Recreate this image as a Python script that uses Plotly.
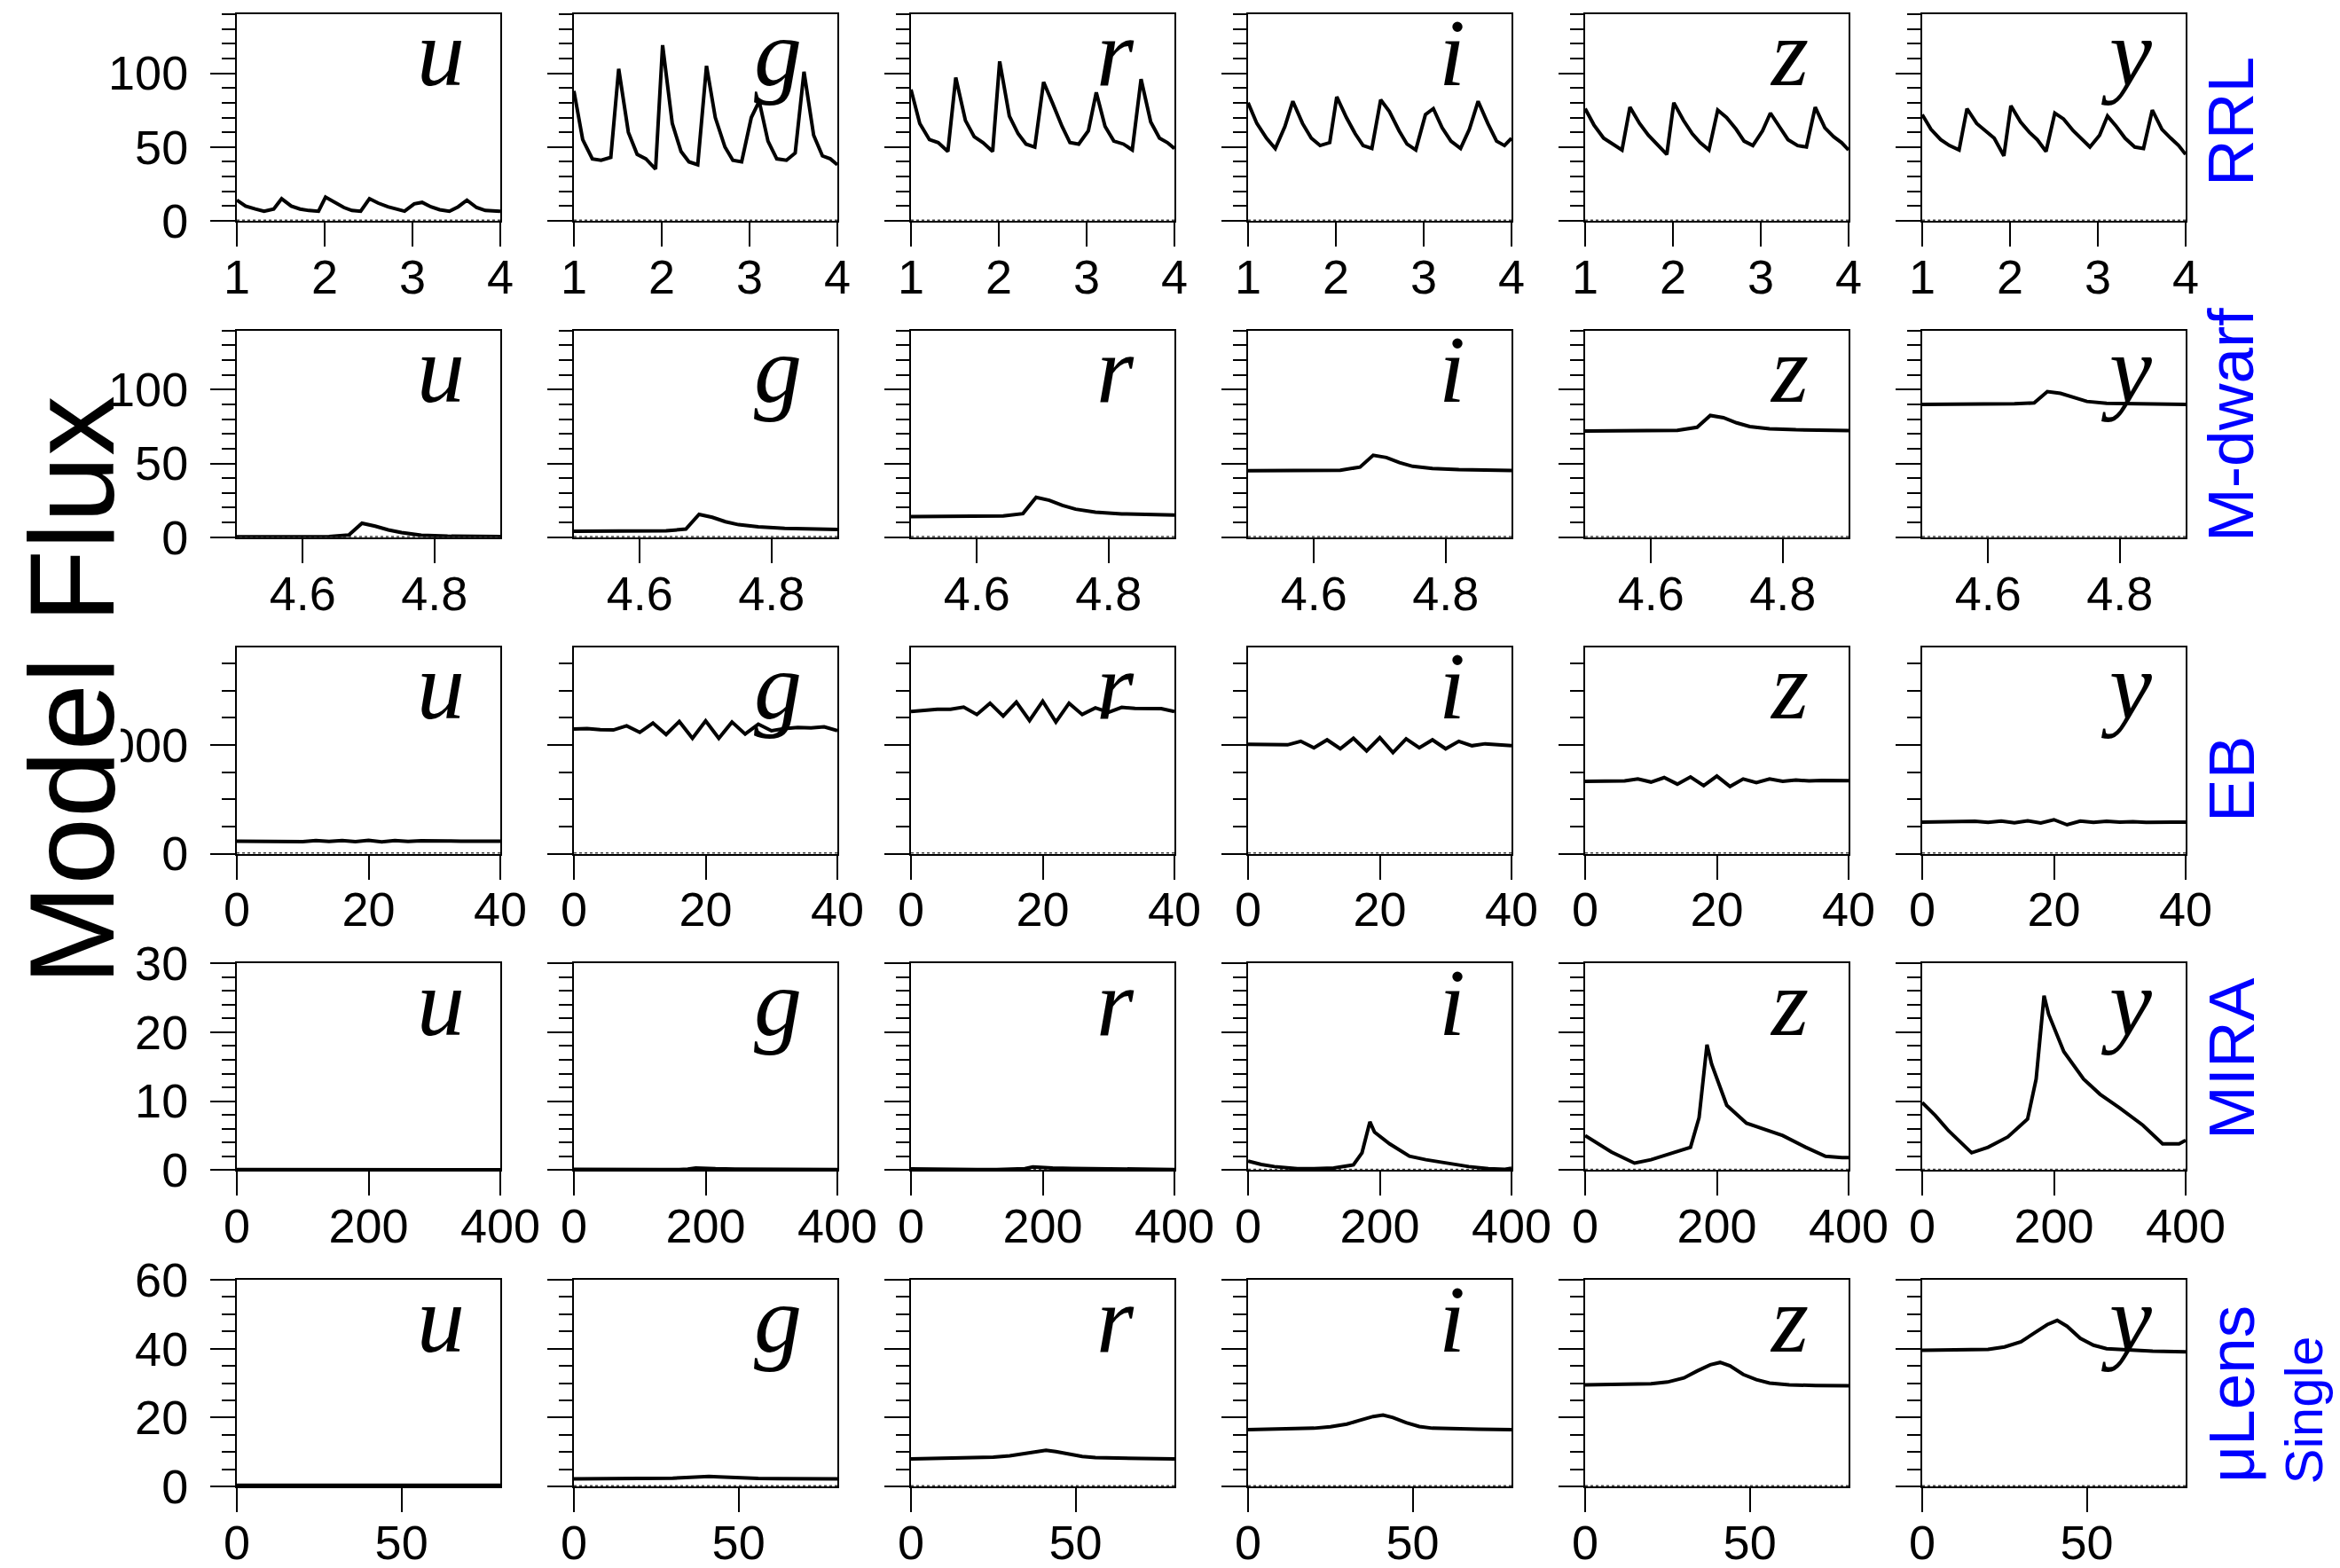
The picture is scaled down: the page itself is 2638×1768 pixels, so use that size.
import plotly.graph_objects as go

# ---------------------------------------------------------------------------
# Model light curves: one row per source class, one column per LSST band
# ---------------------------------------------------------------------------
BANDS = ["u", "g", "r", "i", "z", "y"]
CLASS_NAMES = ["RRL", "M-dwarf", "EB", "MIRA", "μLens"]

# RR Lyrae (time in days)
rrl_t = [1.00, 1.10, 1.21, 1.31, 1.42, 1.51, 1.62, 1.72, 1.82, 1.93, 2.01,
         2.12, 2.22, 2.31, 2.41, 2.51, 2.61, 2.72, 2.81, 2.91, 3.02, 3.11,
         3.21, 3.31, 3.42, 3.52, 3.62, 3.73, 3.83, 3.92, 4.00]
rrl_u = [14, 10, 8, 6.5, 8, 15, 10, 8, 7, 6.5, 16, 12, 9, 7, 6.5, 15, 12, 9.5,
         8, 6.5, 11.5, 12.5, 9.5, 7.5, 6.5, 9.5, 14, 9, 7, 6.5, 6.5]
rrl_g = [88, 55, 42, 41, 43, 103, 60, 45, 42, 35, 119, 66, 47, 40, 38, 105, 70,
         50, 41, 40, 70, 81, 54, 42, 41, 46, 101, 58, 44, 42, 38]
rrl_r = [89, 66, 55, 53, 47, 97, 68, 57, 53, 47, 108, 71, 59, 52, 50, 94, 80,
         64, 53, 52, 61, 87, 64, 54, 52, 48, 96, 67, 56, 53, 49]
rrl_i = [80, 66, 56, 49, 64, 81, 66, 56, 51, 53, 84, 70, 59, 51, 49, 82, 74,
         61, 52, 48, 72, 76, 63, 54, 49, 62, 81, 66, 54, 51, 56]
rrl_z = [76, 65, 56, 52, 48, 77, 66, 58, 52, 45, 80, 68, 59, 53, 48, 75, 70,
         62, 54, 51, 61, 73, 64, 55, 51, 50, 77, 63, 57, 53, 48]
rrl_y = [72, 62, 55, 51, 48, 76, 66, 61, 56, 44, 78, 67, 60, 55, 47, 73, 69,
         61, 56, 50, 58, 71, 64, 56, 50, 49, 75, 62, 56, 51, 45]

# M-dwarf flare
mdw_t = [4.50, 4.55, 4.60, 4.64, 4.67, 4.69, 4.71, 4.73, 4.75, 4.78, 4.82,
         4.86, 4.90]
mdw_u = [0.3, 0.3, 0.3, 0.4, 1.5, 9.5, 7.5, 5.0, 3.2, 1.4, 0.7, 0.5, 0.4]
mdw_g = [4.0, 4.0, 4.1, 4.3, 5.5, 15.5, 13.5, 10.5, 8.5, 7.0, 6.0, 5.5, 5.3]
mdw_r = [14.0, 14.0, 14.1, 14.4, 16.0, 27.0, 25.0, 21.5, 19.0, 17.0, 15.8,
         15.3, 15.0]
mdw_i = [45.0, 45.0, 45.1, 45.4, 47.5, 55.5, 54.0, 50.5, 48.0, 46.5, 45.8,
         45.4, 45.2]
mdw_z = [72.0, 72.0, 72.1, 72.4, 74.5, 82.5, 81.0, 77.5, 75.0, 73.5, 72.8,
         72.4, 72.2]
mdw_y = [90.0, 90.0, 90.2, 90.4, 91.0, 98.7, 97.5, 94.5, 92.0, 90.8, 90.4,
         90.2, 90.0]

# Eclipsing binary
eb_t = [0, 2, 4, 6, 8, 10, 12, 14, 16, 18, 20, 22, 24, 26, 28, 30, 32, 34, 36,
        38, 40]
eb_u = [115, 115, 116, 113, 118, 110, 120, 112, 121, 110, 122, 108, 120, 112,
        118, 114, 116, 115, 116, 115, 115]
eb_g = [1145, 1150, 1140, 1137, 1175, 1115, 1200, 1095, 1215, 1060, 1220, 1060,
        1210, 1100, 1190, 1130, 1150, 1160, 1155, 1165, 1130]
eb_r = [1306, 1320, 1328, 1328, 1347, 1279, 1383, 1265, 1393, 1224, 1402, 1210,
        1383, 1279, 1340, 1300, 1345, 1335, 1330, 1333, 1306]
eb_i = [1005, 1003, 1008, 1000, 1033, 973, 1046, 964, 1060, 945, 1066, 929,
        1055, 973, 1046, 964, 1033, 992, 1010, 1005, 992]
eb_z = [664, 668, 670, 668, 686, 658, 699, 639, 705, 625, 713, 617, 686, 653,
        686, 664, 676, 668, 673, 671, 670]
eb_y = [290, 290, 292, 294, 297, 287, 300, 284, 302, 282, 312, 265, 300, 287,
        297, 290, 294, 288, 292, 290, 290]

# Mira variable
mira_t = [0, 20, 40, 75, 100, 130, 160, 173, 185, 192, 215, 245, 270, 300, 335,
          365, 390, 400]
mira_u = [0.05, 0.05, 0.04, 0.03, 0.03, 0.03, 0.04, 0.05, 0.08, 0.07, 0.06,
          0.05, 0.05, 0.04, 0.04, 0.03, 0.03, 0.03]
mira_g = [0.10, 0.08, 0.06, 0.04, 0.04, 0.05, 0.07, 0.12, 0.30, 0.25, 0.18,
          0.13, 0.11, 0.09, 0.07, 0.05, 0.05, 0.05]
mira_r = [0.15, 0.12, 0.10, 0.06, 0.06, 0.08, 0.12, 0.20, 0.45, 0.40, 0.30,
          0.22, 0.18, 0.15, 0.11, 0.08, 0.07, 0.08]
mira_i = [1.3, 0.8, 0.5, 0.2, 0.2, 0.3, 0.75, 2.5, 7.0, 5.5, 3.8, 2.0, 1.5,
          1.0, 0.5, 0.2, 0.1, 0.25]
mira_z = [5.0, 3.8, 2.6, 1.0, 1.5, 2.4, 3.3, 7.6, 18.2, 15.4, 9.4, 6.8, 6.0,
          5.0, 3.3, 2.0, 1.8, 1.8]
mira_y = [9.8, 7.9, 5.7, 2.5, 3.3, 4.8, 7.4, 13.2, 25.3, 22.6, 17.2, 13.2, 11.0,
          9.0, 6.5, 3.8, 3.8, 4.3]

# Single-lens microlensing event
lens_t = [0, 10, 20, 25, 30, 34, 38, 41, 44, 48, 52, 56, 62, 70, 80]
lens_u = [0.3, 0.3, 0.3, 0.32, 0.35, 0.4, 0.45, 0.48, 0.45, 0.4, 0.35, 0.32,
          0.3, 0.3, 0.3]
lens_g = [2.2, 2.2, 2.25, 2.3, 2.4, 2.6, 2.8, 2.9, 2.8, 2.55, 2.4, 2.3, 2.25,
          2.2, 2.2]
lens_r = [8.0, 8.1, 8.3, 8.5, 8.9, 9.5, 10.2, 10.5, 10.1, 9.3, 8.7, 8.4, 8.2,
          8.1, 8.0]
lens_i = [16.5, 16.6, 16.9, 17.3, 18.1, 19.2, 20.3, 20.7, 20.0, 18.5, 17.4,
          16.9, 16.7, 16.6, 16.5]
lens_z = [29.5, 29.6, 29.8, 30.3, 31.5, 33.5, 35.3, 36.0, 35.0, 32.5, 31.0,
          30.0, 29.5, 29.3, 29.2]
lens_y = [39.5, 39.6, 39.8, 40.5, 42.0, 44.5, 47.0, 48.2, 46.5, 43.0, 41.0,
          40.0, 39.6, 39.3, 39.1]

rows = [
    (rrl_t, [rrl_u, rrl_g, rrl_r, rrl_i, rrl_z, rrl_y]),
    (mdw_t, [mdw_u, mdw_g, mdw_r, mdw_i, mdw_z, mdw_y]),
    (eb_t, [eb_u, eb_g, eb_r, eb_i, eb_z, eb_y]),
    (mira_t, [mira_u, mira_g, mira_r, mira_i, mira_z, mira_y]),
    (lens_t, [lens_u, lens_g, lens_r, lens_i, lens_z, lens_y]),
]

# axis settings per row: x range, x dtick, y range, y dtick, y minor dtick
x_ranges = [[1, 4], [4.5, 4.9], [0, 40], [0, 400], [0, 80]]
x_dticks = [1, 0.2, 20, 200, 50]
y_ranges = [[0, 140], [0, 140], [0, 1900], [0, 30], [0, 60]]
y_dticks = [50, 50, 1000, 10, 20]
y_minor = [10, 10, 250, 2, 5]

# ---------------------------------------------------------------------------
W, H = 2638, 1768
PW, PH = 297, 233
col_left = [267 + 380 * c for c in range(6)]
row_top = [16 + 356.75 * r for r in range(5)]

TICK_FONT = dict(family="Liberation Sans, Arial, sans-serif", size=54,
                 color="black")

fig = go.Figure()
layout = {}
annotations = []

for r, (t, fluxes) in enumerate(rows):
    for c, band in enumerate(BANDS):
        k = r * 6 + c + 1
        sfx = "" if k == 1 else str(k)
        xa, ya = "x" + sfx, "y" + sfx

        # zero reference line
        fig.add_trace(go.Scatter(
            x=x_ranges[r], y=[0, 0], mode="lines",
            line=dict(color="#444444", width=3, dash="dot"),
            xaxis=xa, yaxis=ya, hoverinfo="skip", showlegend=False))
        # model flux curve
        fig.add_trace(go.Scatter(
            x=t, y=fluxes[c], mode="lines",
            line=dict(color="black", width=4),
            xaxis=xa, yaxis=ya, showlegend=False))

        x0 = col_left[c] / W
        x1 = (col_left[c] + PW) / W
        y1 = 1 - row_top[r] / H
        y0 = 1 - (row_top[r] + PH) / H

        layout["xaxis" + sfx] = dict(
            domain=[x0, x1], range=x_ranges[r], anchor=ya,
            tickmode="linear", tick0=0, dtick=x_dticks[r],
            showline=True, linecolor="black", linewidth=2, mirror=True,
            ticks="outside", ticklen=27, tickwidth=2, tickcolor="black",
            showgrid=False, zeroline=False, tickfont=TICK_FONT,
            ticklabelstandoff=-12,
        )
        layout["yaxis" + sfx] = dict(
            domain=[y0, y1], range=y_ranges[r], anchor=xa,
            tickmode="linear", tick0=0, dtick=y_dticks[r], tickformat="d",
            showline=True, linecolor="black", linewidth=2, mirror=True,
            ticks="outside", ticklen=28, tickwidth=2, tickcolor="black",
            minor=dict(ticks="outside", ticklen=15, tickwidth=2,
                       tickcolor="black", tickmode="linear", tick0=0,
                       dtick=y_minor[r], showgrid=False),
            showgrid=False, zeroline=False, tickfont=TICK_FONT,
            showticklabels=(c == 0), ticklabelstandoff=14,
        )

        # band name in the upper right corner of each panel
        annotations.append(dict(
            text=band, xref="paper", yref="paper",
            x=(col_left[c] + PW - 67) / W, y=1 - (row_top[r] + 44) / H,
            xanchor="center", yanchor="middle", showarrow=False,
            font=dict(family="Liberation Serif, Times New Roman, serif",
                      size=108, color="black", style="italic"),
        ))

# class names along the right edge
class_pos = [(2515, 137), (2515, 479), (2515, 879), (2515, 1194)]
for name, (px, py) in zip(CLASS_NAMES[:4], class_pos):
    annotations.append(dict(
        text=name, xref="paper", yref="paper", x=px / W, y=1 - py / H,
        xanchor="center", yanchor="middle", textangle=-90, showarrow=False,
        font=dict(family="Liberation Sans, Arial, sans-serif", size=73,
                  color="#0000ff"),
    ))
annotations.append(dict(
    text=CLASS_NAMES[4], xref="paper", yref="paper", x=2515 / W,
    y=1 - 1674 / H, xanchor="center", yanchor="bottom", textangle=-90,
    showarrow=False,
    font=dict(family="Liberation Sans, Arial, sans-serif", size=73,
              color="#0000ff"),
))
annotations.append(dict(
    text="Single", xref="paper", yref="paper", x=2597 / W, y=1 - 1676 / H,
    xanchor="center", yanchor="bottom", textangle=-90, showarrow=False,
    font=dict(family="Liberation Sans, Arial, sans-serif", size=60,
              color="#0000ff"),
))

# common y-axis title
annotations.append(dict(
    text="Model Flux", xref="paper", yref="paper", x=81 / W, y=1 - 779 / H,
    xanchor="center", yanchor="middle", textangle=-90, showarrow=False,
    font=dict(family="Liberation Sans, Arial, sans-serif", size=136,
              color="black"),
))

# the EB flux label is cut off at the left edge of the label column
shapes = [dict(type="rect", xref="paper", yref="paper", layer="above",
               x0=0, x1=136 / W, y0=1 - 885 / H, y1=1 - 800 / H,
               fillcolor="white", line=dict(width=0))]

fig.update_layout(
    width=W, height=H,
    margin=dict(l=0, r=0, t=0, b=0, autoexpand=False),
    paper_bgcolor="white", plot_bgcolor="white",
    showlegend=False,
    annotations=annotations,
    shapes=shapes,
    **layout,
)

fig.write_html("out.html")
